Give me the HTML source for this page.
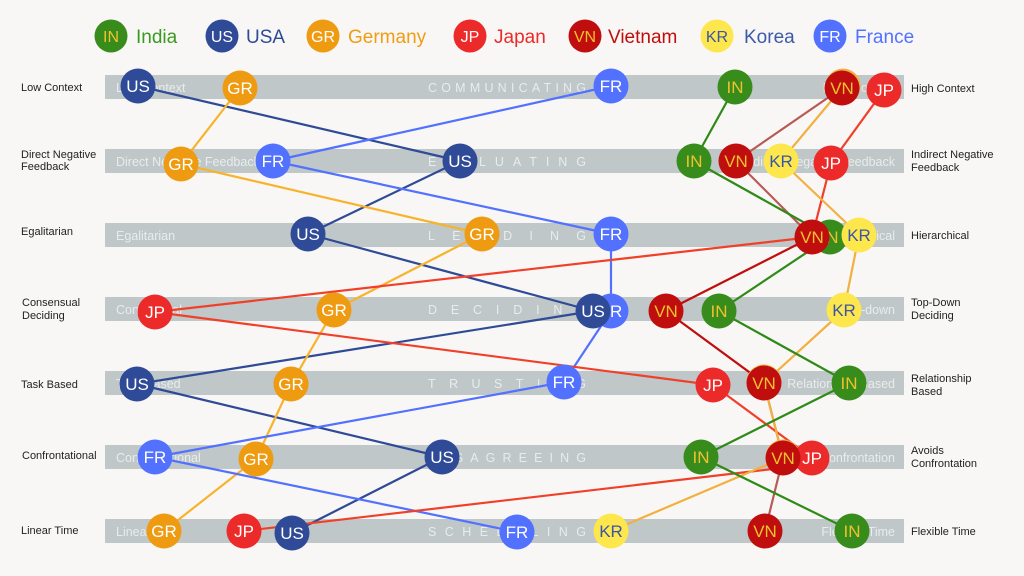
<!DOCTYPE html>
<html>
<head>
<meta charset="utf-8">
<style>
  html,body{margin:0;padding:0;background:#f8f7f5;}
  svg{display:block;}
  .lbl{font-family:"Liberation Sans",Arial,sans-serif;font-size:11px;fill:#222;}
  .pole{font-family:"Liberation Sans",Arial,sans-serif;font-size:12.5px;fill:#e8ecec;}
  .cat{font-family:"Liberation Sans",Arial,sans-serif;font-size:12.5px;fill:#e8ecec;}
  .ct{font-family:"Liberation Sans",Arial,sans-serif;font-size:17px;text-anchor:middle;}
  .lg{font-family:"Liberation Sans",Arial,sans-serif;font-size:19px;}
  .lct{font-family:"Liberation Sans",Arial,sans-serif;font-size:16px;text-anchor:middle;}
</style>
</head>
<body>
<svg width="1024" height="576" viewBox="0 0 1024 576" xmlns="http://www.w3.org/2000/svg">
  <rect x="0" y="0" width="1024" height="576" fill="#f8f7f5"/>

  <!-- Legend -->
  <g>
    <circle cx="111" cy="36" r="16.5" fill="#378c1c"/><text class="lct" x="111" y="42" fill="#f2c12e">IN</text>
    <text class="lg" x="136" y="43" fill="#3a9a1f">India</text>
    <circle cx="222" cy="36" r="16.5" fill="#2f4a96"/><text class="lct" x="222" y="42" fill="#fff">US</text>
    <text class="lg" x="246" y="43" fill="#2f4a96">USA</text>
    <circle cx="323" cy="36" r="16.5" fill="#ef9b12"/><text class="lct" x="323" y="42" fill="#fff">GR</text>
    <text class="lg" x="348" y="43" fill="#f09c14">Germany</text>
    <circle cx="470" cy="36" r="16.5" fill="#ec2a2a"/><text class="lct" x="470" y="42" fill="#fff">JP</text>
    <text class="lg" x="494" y="43" fill="#ec2a2a">Japan</text>
    <circle cx="585" cy="36" r="16.5" fill="#c00d0d"/><text class="lct" x="585" y="42" fill="#f2c12e">VN</text>
    <text class="lg" x="608" y="43" fill="#c00d0d">Vietnam</text>
    <circle cx="717" cy="36" r="16.5" fill="#fde74c"/><text class="lct" x="717" y="42" fill="#3b55a8">KR</text>
    <text class="lg" x="744" y="43" fill="#3d5aa8">Korea</text>
    <circle cx="830" cy="36" r="16.5" fill="#5271ff"/><text class="lct" x="830" y="42" fill="#fff">FR</text>
    <text class="lg" x="855" y="43" fill="#5271ff">France</text>
  </g>

  <!-- Bars -->
  <g fill="#bfc7c9">
    <rect x="105" y="75" width="799" height="24"/>
    <rect x="105" y="149" width="799" height="24"/>
    <rect x="105" y="223" width="799" height="24"/>
    <rect x="105" y="297" width="799" height="24"/>
    <rect x="105" y="371" width="799" height="24"/>
    <rect x="105" y="445" width="799" height="24"/>
    <rect x="105" y="519" width="799" height="24"/>
  </g>

  <!-- Pole text inside bars -->
  <g class="pole">
    <text x="116" y="92">Low Context</text>
    <text x="116" y="166">Direct Negative Feedback</text>
    <text x="116" y="240">Egalitarian</text>
    <text x="116" y="314">Consensual</text>
    <text x="116" y="388">Task Based</text>
    <text x="116" y="462">Confrontational</text>
    <text x="116" y="536">Linear Time</text>
  </g>
  <g class="pole" text-anchor="end">
    <text x="895" y="92">High Context</text>
    <text x="895" y="166">Indirect Negative Feedback</text>
    <text x="895" y="240">Hierarchical</text>
    <text x="895" y="314">Top-down</text>
    <text x="895" y="388">Relationship Based</text>
    <text x="895" y="462">Avoids Confrontation</text>
    <text x="895" y="536">Flexible Time</text>
  </g>
  <g class="cat">
    <text x="428" y="92" textLength="158" lengthAdjust="spacing">COMMUNICATING</text>
    <text x="428" y="166" textLength="158" lengthAdjust="spacing">EVALUATING</text>
    <text x="428" y="240" textLength="158" lengthAdjust="spacing">LEADING</text>
    <text x="428" y="314" textLength="158" lengthAdjust="spacing">DECIDING</text>
    <text x="428" y="388" textLength="158" lengthAdjust="spacing">TRUSTING</text>
    <text x="428" y="462" textLength="158" lengthAdjust="spacing">DISAGREEING</text>
    <text x="428" y="536" textLength="158" lengthAdjust="spacing">SCHEDULING</text>
  </g>

  <!-- Side labels -->
  <g class="lbl">
    <text x="21" y="91">Low Context</text>
    <text x="21" y="158">Direct Negative</text>
    <text x="21" y="170">Feedback</text>
    <text x="21" y="235">Egalitarian</text>
    <text x="22" y="306">Consensual</text>
    <text x="22" y="319">Deciding</text>
    <text x="21" y="388">Task Based</text>
    <text x="22" y="459">Confrontational</text>
    <text x="21" y="534">Linear Time</text>

    <text x="911" y="92">High Context</text>
    <text x="911" y="158">Indirect Negative</text>
    <text x="911" y="171">Feedback</text>
    <text x="911" y="239">Hierarchical</text>
    <text x="911" y="306">Top-Down</text>
    <text x="911" y="319">Deciding</text>
    <text x="911" y="382">Relationship</text>
    <text x="911" y="395">Based</text>
    <text x="911" y="454">Avoids</text>
    <text x="911" y="467">Confrontation</text>
    <text x="911" y="535">Flexible Time</text>
  </g>

  <!-- Lines -->
  <g fill="none" stroke-width="2.2" stroke-linejoin="round">
    <!-- USA -->
    <polyline stroke="#2f4a96" points="138,86 460,161 308,234 593,311 137,384 442,457 292,533"/>
    <!-- Germany -->
    <polyline stroke="#f7b32b" points="240,88 181,164 482,234 334,310 291,384 256,459 164,531"/>
    <!-- France -->
    <polyline stroke="#5271ff" points="611,86 273,161 611,234 611,311 564,382 155,457 517,532"/>
    <!-- Japan -->
    <polyline stroke="#f0402a" points="884,90 831,163 812,237 155,312 713,385 812,458"/>
    <line stroke="#f0402a" x1="244" y1="531" x2="790" y2="467"/>
    <!-- Vietnam -->
    <polyline stroke="#b85a56" points="842,88 736,161 812,237"/>
    <polyline stroke="#c00d0d" points="812,237 666,311 764,383"/>
    <polyline stroke="#b85a56" points="764,383 783,458 765,531"/>
    <!-- Korea -->
    <polyline stroke="#f2b040" points="842,88 781,161 859,235 844,310 764,383 783,458 611,531"/>
    <!-- India -->
    <polyline stroke="#2f8a17" points="735,87 694,161 830,237 719,311 849,383 701,457 852,531"/>
  </g>

  <!-- Hidden KR circles (under VN) -->
  <g fill="#f2b040">
    <circle cx="843" cy="86" r="17.5"/>
    <circle cx="764" cy="382" r="17.5"/>
    <circle cx="783" cy="457" r="17.5"/>
  </g>

  <!-- France -->
  <g>
    <circle cx="611" cy="86" r="17.5" fill="#5271ff"/><text class="ct" x="611" y="92" fill="#fff">FR</text>
    <circle cx="273" cy="161" r="17.5" fill="#5271ff"/><text class="ct" x="273" y="167" fill="#fff">FR</text>
    <circle cx="611" cy="234" r="17.5" fill="#5271ff"/><text class="ct" x="611" y="240" fill="#fff">FR</text>
    <circle cx="611" cy="311" r="17.5" fill="#5271ff"/><text class="ct" x="611" y="317" fill="#fff">FR</text>
    <circle cx="564" cy="382" r="17.5" fill="#5271ff"/><text class="ct" x="564" y="388" fill="#fff">FR</text>
    <circle cx="155" cy="457" r="17.5" fill="#5271ff"/><text class="ct" x="155" y="463" fill="#fff">FR</text>
    <circle cx="517" cy="532" r="17.5" fill="#5271ff"/><text class="ct" x="517" y="538" fill="#fff">FR</text>
  </g>

  <!-- Japan -->
  <g>
    <circle cx="884" cy="90" r="17.5" fill="#ec2a2a"/><text class="ct" x="884" y="96" fill="#fff">JP</text>
    <circle cx="831" cy="163" r="17.5" fill="#ec2a2a"/><text class="ct" x="831" y="169" fill="#fff">JP</text>
    <circle cx="155" cy="312" r="17.5" fill="#ec2a2a"/><text class="ct" x="155" y="318" fill="#fff">JP</text>
    <circle cx="713" cy="385" r="17.5" fill="#ec2a2a"/><text class="ct" x="713" y="391" fill="#fff">JP</text>
    <circle cx="812" cy="458" r="17.5" fill="#ec2a2a"/><text class="ct" x="812" y="464" fill="#fff">JP</text>
    <circle cx="244" cy="531" r="17.5" fill="#ec2a2a"/><text class="ct" x="244" y="537" fill="#fff">JP</text>
  </g>

  <!-- India -->
  <g>
    <circle cx="735" cy="87" r="17.5" fill="#378c1c"/><text class="ct" x="735" y="93" fill="#f2c12e">IN</text>
    <circle cx="694" cy="161" r="17.5" fill="#378c1c"/><text class="ct" x="694" y="167" fill="#f2c12e">IN</text>
    <circle cx="830" cy="237" r="17.5" fill="#378c1c"/><text class="ct" x="830" y="243" fill="#f2c12e">IN</text>
    <circle cx="719" cy="311" r="17.5" fill="#378c1c"/><text class="ct" x="719" y="317" fill="#f2c12e">IN</text>
    <circle cx="849" cy="383" r="17.5" fill="#378c1c"/><text class="ct" x="849" y="389" fill="#f2c12e">IN</text>
    <circle cx="701" cy="457" r="17.5" fill="#378c1c"/><text class="ct" x="701" y="463" fill="#f2c12e">IN</text>
    <circle cx="852" cy="531" r="17.5" fill="#378c1c"/><text class="ct" x="852" y="537" fill="#f2c12e">IN</text>
  </g>

  <!-- Germany -->
  <g>
    <circle cx="240" cy="88" r="17.5" fill="#ef9b12"/><text class="ct" x="240" y="94" fill="#fff">GR</text>
    <circle cx="181" cy="164" r="17.5" fill="#ef9b12"/><text class="ct" x="181" y="170" fill="#fff">GR</text>
    <circle cx="482" cy="234" r="17.5" fill="#ef9b12"/><text class="ct" x="482" y="240" fill="#fff">GR</text>
    <circle cx="334" cy="310" r="17.5" fill="#ef9b12"/><text class="ct" x="334" y="316" fill="#fff">GR</text>
    <circle cx="291" cy="384" r="17.5" fill="#ef9b12"/><text class="ct" x="291" y="390" fill="#fff">GR</text>
    <circle cx="256" cy="459" r="17.5" fill="#ef9b12"/><text class="ct" x="256" y="465" fill="#fff">GR</text>
    <circle cx="164" cy="531" r="17.5" fill="#ef9b12"/><text class="ct" x="164" y="537" fill="#fff">GR</text>
  </g>

  <!-- USA -->
  <g>
    <circle cx="138" cy="86" r="17.5" fill="#2f4a96"/><text class="ct" x="138" y="92" fill="#fff">US</text>
    <circle cx="460" cy="161" r="17.5" fill="#2f4a96"/><text class="ct" x="460" y="167" fill="#fff">US</text>
    <circle cx="308" cy="234" r="17.5" fill="#2f4a96"/><text class="ct" x="308" y="240" fill="#fff">US</text>
    <circle cx="593" cy="311" r="17.5" fill="#2f4a96"/><text class="ct" x="593" y="317" fill="#fff">US</text>
    <circle cx="137" cy="384" r="17.5" fill="#2f4a96"/><text class="ct" x="137" y="390" fill="#fff">US</text>
    <circle cx="442" cy="457" r="17.5" fill="#2f4a96"/><text class="ct" x="442" y="463" fill="#fff">US</text>
    <circle cx="292" cy="533" r="17.5" fill="#2f4a96"/><text class="ct" x="292" y="539" fill="#fff">US</text>
  </g>

  <!-- Vietnam -->
  <g>
    <circle cx="842" cy="88" r="17.5" fill="#c00d0d"/><text class="ct" x="842" y="94" fill="#f2c12e">VN</text>
    <circle cx="736" cy="161" r="17.5" fill="#c00d0d"/><text class="ct" x="736" y="167" fill="#f2c12e">VN</text>
    <circle cx="812" cy="237" r="17.5" fill="#c00d0d"/><text class="ct" x="812" y="243" fill="#f2c12e">VN</text>
    <circle cx="666" cy="311" r="17.5" fill="#c00d0d"/><text class="ct" x="666" y="317" fill="#f2c12e">VN</text>
    <circle cx="764" cy="383" r="17.5" fill="#c00d0d"/><text class="ct" x="764" y="389" fill="#f2c12e">VN</text>
    <circle cx="783" cy="458" r="17.5" fill="#c00d0d"/><text class="ct" x="783" y="464" fill="#f2c12e">VN</text>
    <circle cx="765" cy="531" r="17.5" fill="#c00d0d"/><text class="ct" x="765" y="537" fill="#f2c12e">VN</text>
  </g>

  <!-- Korea (visible) -->
  <g>
    <circle cx="781" cy="161" r="17.5" fill="#fde74c"/><text class="ct" x="781" y="167" fill="#3b55a8">KR</text>
    <circle cx="859" cy="235" r="17.5" fill="#fde74c"/><text class="ct" x="859" y="241" fill="#3b55a8">KR</text>
    <circle cx="844" cy="310" r="17.5" fill="#fde74c"/><text class="ct" x="844" y="316" fill="#3b55a8">KR</text>
    <circle cx="611" cy="531" r="17.5" fill="#fde74c"/><text class="ct" x="611" y="537" fill="#3b55a8">KR</text>
  </g>
</svg>
</body>
</html>
